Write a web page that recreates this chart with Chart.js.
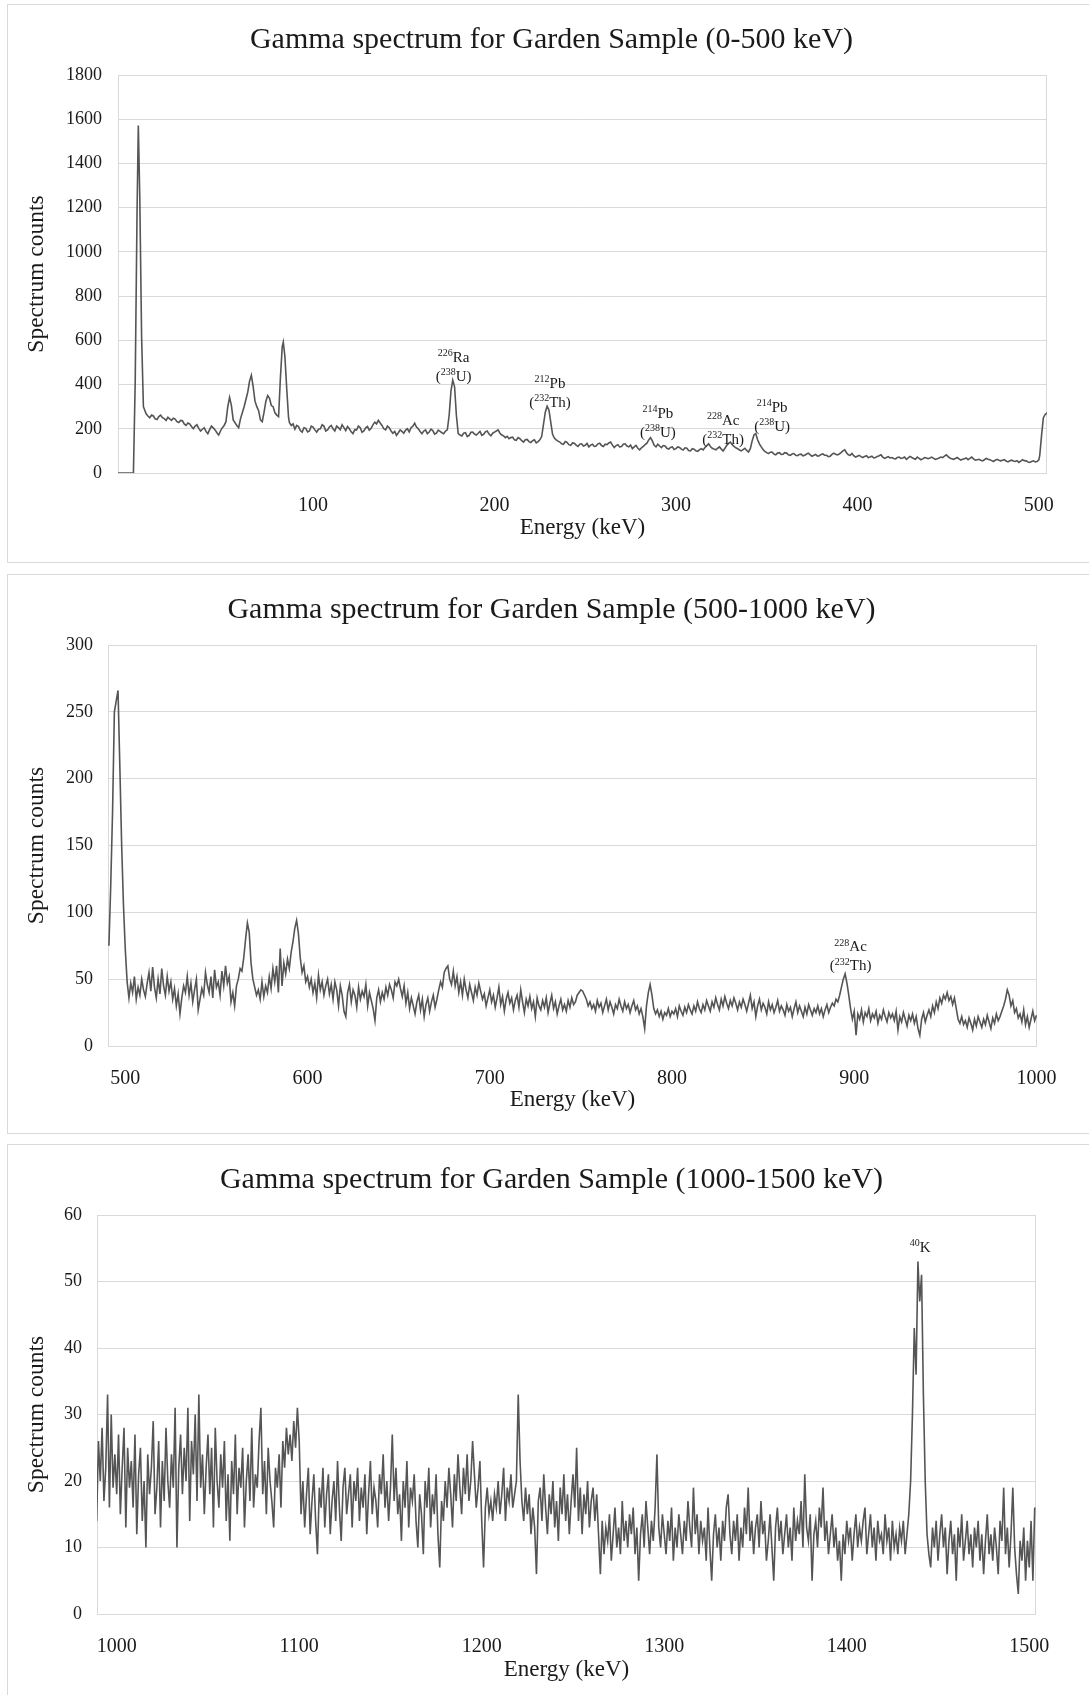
<!DOCTYPE html>
<html>
<head>
<meta charset="utf-8">
<script src="https://cdn.jsdelivr.net/npm/chart.js@4.4.1/dist/chart.umd.min.js"></script>
<style>
  html, body { margin: 0; padding: 0; background: #fff; overflow: hidden; }
  .box { position: absolute; border: 1px solid #d9d9d9; box-sizing: border-box; }
  canvas { position: absolute; }
</style>
</head>
<body>
<div class="box" style="left:7px;top:4px;width:1100px;height:559px"></div>
<canvas id="chart1" width="1087" height="557" style="left:8px;top:5px"></canvas>
<div class="box" style="left:7px;top:574px;width:1100px;height:560px"></div>
<canvas id="chart2" width="1087" height="558" style="left:8px;top:575px"></canvas>
<div class="box" style="left:7px;top:1144px;width:1100px;height:600px"></div>
<canvas id="chart3" width="1087" height="550" style="left:8px;top:1145px"></canvas>

<script>
// ---- panel 1 : 0-500 keV ----
const energies1 = [
  -7.5, 0, 1, 2, 3, 3.7, 4.5, 5.5, 6.5,
  8, 9, 10, 11, 12, 13, 14, 15, 16, 17,
  18, 19, 20, 21, 22, 23, 24, 25, 26, 27,
  28, 29, 30, 31, 32, 33, 34, 35, 36, 37,
  38, 39, 40, 41, 42, 43, 44, 45, 46, 47,
  48, 49, 50, 51, 52,
  53, 54, 55, 56, 58, 59, 60, 62, 64, 65,
  66, 67, 68, 69, 70, 71, 72, 73, 74, 75,
  76, 77, 78, 79, 80, 81, 82, 83, 83.6, 84.5,
  85.5, 86.5,
  87, 88, 89, 90, 91, 92, 93, 94, 95, 96,
  97, 98, 99, 100, 101, 102, 103, 104, 105, 106,
  107, 108, 109, 110, 111, 112, 113, 114, 115, 116,
  117, 118, 119, 120, 121, 122, 123, 124, 125, 126,
  127, 128, 129, 130, 131, 132, 133, 134, 135, 136,
  137, 138, 139, 140, 141, 142, 143, 144, 145, 146,
  147, 148, 149, 150, 151, 152, 153, 154, 155, 156,
  157, 158, 159, 160, 161, 162, 163, 164, 165, 166,
  167, 168, 169, 170, 171, 172, 173, 174, 175, 176,
  177, 178, 179, 180, 181, 182, 183, 184, 185, 186,
  187, 188, 189, 190, 191, 192, 193, 194, 195, 196,
  197, 198, 199, 200, 201, 202, 203, 204, 205, 206,
  207, 208, 209, 210, 211, 212, 213, 214, 215, 216,
  217, 218, 219, 220, 221, 222, 223, 224, 225, 226,
  227, 228, 229, 230, 231, 232, 233, 234, 235, 236,
  237, 238, 239, 240, 241, 242, 243, 244, 245, 246,
  247, 248, 249, 250, 251, 252, 253, 254, 255, 256,
  257, 258, 259, 260, 261, 262, 263, 264, 265, 266,
  267, 268, 269, 270, 271, 272, 273, 274, 275, 276,
  277, 278, 279, 280, 281, 282, 283, 284, 285, 286,
  287, 288, 289, 290, 291, 292, 293, 294, 295, 296,
  297, 298, 299, 300, 301, 302, 303, 304, 305, 306,
  307, 308, 309, 310, 311, 312, 313, 314, 315, 316,
  317, 318, 319, 320, 321, 322, 323, 324, 325, 326,
  327, 328, 329, 330, 331, 332, 333, 334, 335, 336,
  337, 338, 339, 340, 341, 342, 343, 344, 345, 346,
  347, 348, 349, 350, 351, 352, 353, 354, 355, 356,
  357, 358, 359, 360, 361, 362, 363, 364, 365, 366,
  367, 368, 369, 370, 371, 372, 373, 374, 375, 376,
  377, 378, 379, 380, 381, 382, 383, 384, 385, 386,
  387, 388, 389, 390, 391, 392, 393, 394, 395, 396,
  397, 398, 399, 400, 401, 402, 403, 404, 405, 406,
  407, 408, 409, 410, 411, 412, 413, 414, 415, 416,
  417, 418, 419, 420, 421, 422, 423, 424, 425, 426,
  427, 428, 429, 430, 431, 432, 433, 434, 435, 436,
  437, 438, 439, 440, 441, 442, 443, 444, 445, 446,
  447, 448, 449, 450, 451, 452, 453, 454, 455, 456,
  457, 458, 459, 460, 461, 462, 463, 464, 465, 466,
  467, 468, 469, 470, 471, 472, 473, 474, 475, 476,
  477, 478, 479, 480, 481, 482, 483, 484, 485, 486,
  487, 488, 489, 490, 491, 492, 493, 494, 495, 496,
  497, 498, 499, 500, 500.5, 501.5, 502.5, 503.5, 504.5
];
const counts1 = [
  0, 0, 0, 420, 1180, 1572, 1250, 620, 300,
  268, 258, 250, 262, 258, 245, 242, 255, 262, 250,
  246, 238, 252, 245, 238, 248, 244, 232, 228, 238,
  236, 222, 215, 226, 222, 210, 200, 212, 218, 202,
  190, 198, 205, 188, 178, 196, 212, 204, 195, 182,
  172, 190, 205, 215, 232,
  300, 342, 305, 240, 215, 205, 245, 300, 365, 415,
  442, 390, 325, 300, 282, 240, 232, 275, 325, 350,
  338, 305, 300, 272, 262, 255, 430, 570, 592, 525,
  380, 250,
  228, 215, 222, 198, 215, 210, 192, 185, 205, 202,
  186, 190, 212, 208, 195, 185, 198, 200, 218, 212,
  190, 195, 208, 215, 200, 190, 212, 205, 196, 218,
  205, 192, 210, 200, 186, 178, 196, 195, 212, 205,
  184, 190, 204, 210, 194, 202, 218, 230, 222, 238,
  226, 215, 200, 195, 212, 205, 190, 180, 188, 170,
  182, 195, 188, 180, 194, 200, 186, 205, 212, 225,
  208, 200, 188, 178, 190, 195, 178, 185, 198, 192,
  176, 180, 194, 188, 182, 178, 190, 195, 260, 370,
  420, 390, 260, 178, 172, 168, 180, 182, 165, 170,
  184, 185, 176, 172, 180, 188, 170, 175, 186, 190,
  176, 168, 180, 185, 190, 195, 180, 172, 168, 160,
  166, 155, 160, 162, 150, 148, 160, 155, 146, 140,
  150, 152, 142, 138, 146, 150, 136, 142, 150, 165,
  220, 275, 302, 285, 230, 175, 158, 150, 144, 140,
  132, 130, 142, 138, 128, 125, 136, 135, 126, 120,
  130, 132, 122, 125, 134, 118, 126, 130, 120, 122,
  132, 135, 124, 120, 130, 128, 136, 140, 126, 115,
  124, 128, 118, 120, 130, 132, 122, 118, 126, 110,
  118, 125, 112, 105, 114, 120, 128, 135, 150, 160,
  145, 125, 118, 130, 122, 115, 124, 122, 112, 108,
  116, 118, 106, 110, 118, 115, 108, 104, 114, 112,
  102, 100, 110, 108, 100, 98, 106, 110, 104, 115,
  124, 132, 120, 112, 108, 105, 112, 118, 108, 100,
  112, 125, 134, 140, 128, 120, 114, 110, 104, 100,
  106, 112, 102, 95, 110, 145, 172, 178, 150, 132,
  118, 106, 98, 92, 88, 94, 95, 86, 82, 90,
  92, 84, 85, 92, 90, 82, 80, 86, 88, 80,
  78, 84, 85, 78, 80, 86, 90, 82, 76, 80,
  84, 76, 78, 84, 86, 80, 80, 74, 76, 84,
  90, 85, 82, 86, 92, 100, 105, 92, 82, 80,
  88, 78, 72, 76, 80, 74, 70, 75, 78, 70,
  72, 76, 68, 70, 75, 78, 82, 72, 66, 70,
  74, 68, 70, 66, 64, 70, 72, 66, 68, 72,
  62, 68, 75, 70, 66, 62, 72, 66, 60, 64,
  70, 68, 65, 68, 72, 66, 62, 64, 68, 72,
  70, 76, 82, 74, 68, 64, 62, 66, 70, 64,
  58, 62, 65, 68, 60, 66, 72, 64, 58, 60,
  62, 58, 55, 60, 66, 62, 60, 56, 52, 58,
  62, 58, 55, 58, 60, 54, 50, 55, 58, 54,
  52, 56, 48, 54, 60, 56, 55, 50, 48, 52,
  55, 50, 52, 60, 80, 170, 250, 265, 272
];
const xTicks1 = [100, 200, 300, 400, 500];
const yTicks1 = [0, 200, 400, 600, 800, 1000, 1200, 1400, 1600, 1800];
const noteText1 = [['^226Ra', '(^238U)'], ['^212Pb', '(^232Th)'], ['^214Pb', '(^238U)'], ['^228Ac', '(^232Th)'], ['^214Pb', '(^238U)']];
const noteEnergy1 = [177.5, 230.6, 290, 326, 353];
const noteCounts1 = [526, 408, 272, 241, 300];

// ---- panel 2 : 500-1000 keV ----
const energies2 = [
  491, 492, 493, 494, 495, 496, 497, 498, 499, 500,
  501, 502, 503, 504, 505, 506, 507, 508, 509, 510,
  511, 512, 513, 514, 515, 516, 517, 518, 519, 520,
  521, 522, 523, 524, 525, 526, 527, 528, 529, 530,
  531, 532, 533, 534, 535, 536, 537, 538, 539, 540,
  541, 542, 543, 544, 545, 546, 547, 548, 549, 550,
  551, 552, 553, 554, 555, 556, 557, 558, 559, 560,
  561, 562, 563, 564, 565, 566, 567, 568, 569, 570,
  571, 572, 573, 574, 575, 576, 577, 578, 579, 580,
  581, 582, 583, 584, 585, 586, 587, 588, 589, 590,
  591, 592, 593, 594, 595, 596, 597, 598, 599, 600,
  601, 602, 603, 604, 605, 606, 607, 608, 609, 610,
  611, 612, 613, 614, 615, 616, 617, 618, 619, 620,
  621, 622, 623, 624, 625, 626, 627, 628, 629, 630,
  631, 632, 633, 634, 635, 636, 637, 638, 639, 640,
  641, 642, 643, 644, 645, 646, 647, 648, 649, 650,
  651, 652, 653, 654, 655, 656, 657, 658, 659, 660,
  661, 662, 663, 664, 665, 666, 667, 668, 669, 670,
  671, 672, 673, 674, 675, 676, 677, 678, 679, 680,
  681, 682, 683, 684, 685, 686, 687, 688, 689, 690,
  691, 692, 693, 694, 695, 696, 697, 698, 699, 700,
  701, 702, 703, 704, 705, 706, 707, 708, 709, 710,
  711, 712, 713, 714, 715, 716, 717, 718, 719, 720,
  721, 722, 723, 724, 725, 726, 727, 728, 729, 730,
  731, 732, 733, 734, 735, 736, 737, 738, 739, 740,
  741, 742, 743, 744, 745, 746, 747, 748, 749, 750,
  751, 752, 753, 754, 755, 756, 757, 758, 759, 760,
  761, 762, 763, 764, 765, 766, 767, 768, 769, 770,
  771, 772, 773, 774, 775, 776, 777, 778, 779, 780,
  781, 782, 783, 784, 785, 786, 787, 788, 789, 790,
  791, 792, 793, 794, 795, 796, 797, 798, 799, 800,
  801, 802, 803, 804, 805, 806, 807, 808, 809, 810,
  811, 812, 813, 814, 815, 816, 817, 818, 819, 820,
  821, 822, 823, 824, 825, 826, 827, 828, 829, 830,
  831, 832, 833, 834, 835, 836, 837, 838, 839, 840,
  841, 842, 843, 844, 845, 846, 847, 848, 849, 850,
  851, 852, 853, 854, 855, 856, 857, 858, 859, 860,
  861, 862, 863, 864, 865, 866, 867, 868, 869, 870,
  871, 872, 873, 874, 875, 876, 877, 878, 879, 880,
  881, 882, 883, 884, 885, 886, 887, 888, 889, 890,
  891, 892, 893, 894, 895, 896, 897, 898, 899, 900,
  901, 902, 903, 904, 905, 906, 907, 908, 909, 910,
  911, 912, 913, 914, 915, 916, 917, 918, 919, 920,
  921, 922, 923, 924, 925, 926, 927, 928, 929, 930,
  931, 932, 933, 934, 935, 936, 937, 938, 939, 940,
  941, 942, 943, 944, 945, 946, 947, 948, 949, 950,
  951, 952, 953, 954, 955, 956, 957, 958, 959, 960,
  961, 962, 963, 964, 965, 966, 967, 968, 969, 970,
  971, 972, 973, 974, 975, 976, 977, 978, 979, 980,
  981, 982, 983, 984, 985, 986, 987, 988, 989, 990,
  991, 992, 993, 994, 995, 996, 997, 998, 999, 1000
];
const counts2 = [
  75, 120, 175, 250, 258, 266, 209, 150, 105, 72,
  48, 36, 47, 40, 52, 35, 44, 38, 50, 42,
  37, 47, 55, 41, 59, 44, 36, 50, 39, 58,
  45, 38, 52, 41, 48, 35, 43, 30, 39, 24,
  36, 45, 40, 52, 38, 47, 33, 42, 50, 27,
  35, 43, 38, 55, 46, 40, 52, 36, 57, 44,
  48, 38, 56, 45, 60, 47, 52, 33, 40, 30,
  45, 50, 58, 56, 66, 80, 92, 85, 62, 50,
  44, 38, 42, 35, 48, 37, 45, 40, 52, 43,
  58, 48, 60, 40, 73, 45, 62, 54, 65, 58,
  70, 78, 88, 94, 84, 66, 55, 60, 48, 52,
  44, 50, 40, 47, 36, 53, 42, 48, 38, 45,
  50, 39, 46, 35, 48, 42, 30, 45, 38, 26,
  22, 40, 46, 33, 42, 38, 29, 44, 35, 41,
  37, 46, 30, 40, 34, 28, 19, 36, 42, 33,
  40, 35, 44, 38, 46, 42, 36, 48, 45, 50,
  43, 37, 45, 32, 40, 28, 36, 30, 24, 33,
  38, 27, 35, 22, 31, 36, 26, 33, 38, 29,
  35, 42, 48, 44, 55, 58, 60, 50, 46, 56,
  45, 52, 40, 48, 38, 50, 42, 36, 46, 40,
  34, 44, 38, 47, 41, 35, 39, 30, 36, 42,
  33, 38, 29, 36, 44, 31, 37, 26, 35, 40,
  32, 36, 27, 34, 38, 29, 42, 33, 25, 35,
  30, 37, 28, 33, 22, 36, 30, 27, 34, 29,
  36, 25, 32, 38, 28, 33, 24, 30, 35, 27,
  31, 26, 34, 29, 36, 31, 33, 38, 40, 42,
  41, 38, 35, 30, 33, 28, 31, 26, 34, 29,
  32, 25, 30, 35, 27, 33, 29, 24, 31, 28,
  35, 30, 26, 33, 28, 31, 25, 30, 34, 27,
  30, 24, 28, 22, 13, 30, 40, 46, 38, 28,
  24, 27, 22, 26, 20, 25, 23, 28, 22, 26,
  24, 28, 22, 30, 26, 23, 29, 25, 31, 27,
  24, 30, 26, 33, 28, 25, 31, 27, 34, 30,
  26, 33, 29, 36, 31, 27, 35, 30, 37, 32,
  28, 34, 30, 36, 32, 27, 33, 29, 35, 31,
  26, 32, 38, 28, 33, 22, 30, 35, 27, 32,
  29, 24, 33, 27, 31, 25, 29, 34, 26, 30,
  27, 23, 31, 26, 29, 22, 28, 33, 25, 30,
  26, 22, 29, 24, 31, 27, 23, 28, 25, 30,
  24, 28, 22, 27, 31, 25, 29, 32, 30, 35,
  33, 38, 44, 50, 54, 47, 38, 28, 20, 26,
  8, 24, 20, 27, 18, 25, 22, 28, 19, 24,
  21, 26, 17, 23, 20, 27, 22, 18, 25, 21,
  24, 19, 26, 12, 22, 18, 25, 20, 15, 23,
  19, 24, 17, 22, 13, 8, 20, 25, 18, 23,
  27, 22, 30, 25, 33, 28, 36, 32, 38, 35,
  40, 34, 37, 31, 36, 28, 20, 17, 22, 16,
  19, 14, 21, 17, 12, 20, 15, 22, 18, 14,
  20, 16, 23, 18, 13, 21, 17, 24, 19, 22,
  26, 30, 35, 42, 38, 30, 34, 25, 28, 21,
  24, 18, 27, 16, 22, 14, 20, 26, 19, 23
];
const xTicks2 = [500, 600, 700, 800, 900, 1000];
const yTicks2 = [0, 50, 100, 150, 200, 250, 300];
const noteText2 = [['^228Ac', '(^232Th)']];
const noteEnergy2 = [898];
const noteCounts2 = [74.6];

// ---- panel 3 : 1000-1500 keV ----
const energies3 = [
  989, 990, 991, 992, 993, 994, 995, 996, 997, 998,
  999, 1000, 1001, 1002, 1003, 1004, 1005, 1006, 1007, 1008,
  1009, 1010, 1011, 1012, 1013, 1014, 1015, 1016, 1017, 1018,
  1019, 1020, 1021, 1022, 1023, 1024, 1025, 1026, 1027, 1028,
  1029, 1030, 1031, 1032, 1033, 1034, 1035, 1036, 1037, 1038,
  1039, 1040, 1041, 1042, 1043, 1044, 1045, 1046, 1047, 1048,
  1049, 1050, 1051, 1052, 1053, 1054, 1055, 1056, 1057, 1058,
  1059, 1060, 1061, 1062, 1063, 1064, 1065, 1066, 1067, 1068,
  1069, 1070, 1071, 1072, 1073, 1074, 1075, 1076, 1077, 1078,
  1079, 1080, 1081, 1082, 1083, 1084, 1085, 1086, 1087, 1088,
  1089, 1090, 1091, 1092, 1093, 1094, 1095, 1096, 1097, 1098,
  1099, 1100, 1101, 1102, 1103, 1104, 1105, 1106, 1107, 1108,
  1109, 1110, 1111, 1112, 1113, 1114, 1115, 1116, 1117, 1118,
  1119, 1120, 1121, 1122, 1123, 1124, 1125, 1126, 1127, 1128,
  1129, 1130, 1131, 1132, 1133, 1134, 1135, 1136, 1137, 1138,
  1139, 1140, 1141, 1142, 1143, 1144, 1145, 1146, 1147, 1148,
  1149, 1150, 1151, 1152, 1153, 1154, 1155, 1156, 1157, 1158,
  1159, 1160, 1161, 1162, 1163, 1164, 1165, 1166, 1167, 1168,
  1169, 1170, 1171, 1172, 1173, 1174, 1175, 1176, 1177, 1178,
  1179, 1180, 1181, 1182, 1183, 1184, 1185, 1186, 1187, 1188,
  1189, 1190, 1191, 1192, 1193, 1194, 1195, 1196, 1197, 1198,
  1199, 1200, 1201, 1202, 1203, 1204, 1205, 1206, 1207, 1208,
  1209, 1210, 1211, 1212, 1213, 1214, 1215, 1216, 1217, 1218,
  1219, 1220, 1221, 1222, 1223, 1224, 1225, 1226, 1227, 1228,
  1229, 1230, 1231, 1232, 1233, 1234, 1235, 1236, 1237, 1238,
  1239, 1240, 1241, 1242, 1243, 1244, 1245, 1246, 1247, 1248,
  1249, 1250, 1251, 1252, 1253, 1254, 1255, 1256, 1257, 1258,
  1259, 1260, 1261, 1262, 1263, 1264, 1265, 1266, 1267, 1268,
  1269, 1270, 1271, 1272, 1273, 1274, 1275, 1276, 1277, 1278,
  1279, 1280, 1281, 1282, 1283, 1284, 1285, 1286, 1287, 1288,
  1289, 1290, 1291, 1292, 1293, 1294, 1295, 1296, 1297, 1298,
  1299, 1300, 1301, 1302, 1303, 1304, 1305, 1306, 1307, 1308,
  1309, 1310, 1311, 1312, 1313, 1314, 1315, 1316, 1317, 1318,
  1319, 1320, 1321, 1322, 1323, 1324, 1325, 1326, 1327, 1328,
  1329, 1330, 1331, 1332, 1333, 1334, 1335, 1336, 1337, 1338,
  1339, 1340, 1341, 1342, 1343, 1344, 1345, 1346, 1347, 1348,
  1349, 1350, 1351, 1352, 1353, 1354, 1355, 1356, 1357, 1358,
  1359, 1360, 1361, 1362, 1363, 1364, 1365, 1366, 1367, 1368,
  1369, 1370, 1371, 1372, 1373, 1374, 1375, 1376, 1377, 1378,
  1379, 1380, 1381, 1382, 1383, 1384, 1385, 1386, 1387, 1388,
  1389, 1390, 1391, 1392, 1393, 1394, 1395, 1396, 1397, 1398,
  1399, 1400, 1401, 1402, 1403, 1404, 1405, 1406, 1407, 1408,
  1409, 1410, 1411, 1412, 1413, 1414, 1415, 1416, 1417, 1418,
  1419, 1420, 1421, 1422, 1423, 1424, 1425, 1426, 1427, 1428,
  1429, 1430, 1431, 1432, 1433, 1434, 1435, 1436, 1437, 1438,
  1439, 1440, 1441, 1442, 1443, 1444, 1445, 1446, 1447, 1448,
  1449, 1450, 1451, 1452, 1453, 1454, 1455, 1456, 1457, 1458,
  1459, 1460, 1461, 1462, 1463, 1464, 1465, 1466, 1467, 1468,
  1469, 1470, 1471, 1472, 1473, 1474, 1475, 1476, 1477, 1478,
  1479, 1480, 1481, 1482, 1483, 1484, 1485, 1486, 1487, 1488,
  1489, 1490, 1491, 1492, 1493, 1494, 1495, 1496, 1497, 1498,
  1499, 1500, 1501, 1502, 1503
];
const counts3 = [
  14, 26, 20, 28, 17, 22, 33, 16, 30, 19,
  24, 18, 27, 15, 22, 28, 13, 25, 19, 23,
  16, 27, 12, 21, 25, 14, 20, 10, 24, 18,
  22, 29, 15, 19, 26, 13, 23, 17, 28, 20,
  16, 24, 19, 31, 10, 22, 27, 18, 25, 20,
  31, 14, 26, 21, 30, 17, 33, 19, 24, 15,
  22, 27, 18, 25, 13, 28, 20, 16, 24, 19,
  26, 14, 21, 11, 23, 18, 27, 15, 22, 19,
  25, 13, 20, 24, 17, 28, 16, 21, 19, 26,
  31, 18, 23, 15, 25, 20, 17, 13, 22, 19,
  24, 16, 26, 22, 28, 24, 27, 23, 29, 25,
  31, 26, 15, 20, 13, 18, 22, 12, 17, 21,
  14, 9, 19, 16, 22, 13, 18, 21, 12, 17,
  20, 14, 23, 16, 11, 19, 22, 15, 18, 21,
  13, 20, 17, 22, 14, 19, 16, 21, 12, 18,
  23, 15, 19, 17, 13, 21, 18, 24, 16, 20,
  14, 19, 27, 17, 22, 15, 18, 11, 20, 16,
  23, 13, 19, 17, 21, 14, 10, 18, 15, 9,
  20, 16, 22, 13, 18, 15, 21, 12, 7, 17,
  14, 20, 16, 22, 18, 13, 21, 17, 24, 19,
  15, 22, 18, 24, 17, 20, 26, 21, 16, 19,
  23, 14, 7, 16, 19, 15, 17, 14, 18, 16,
  20, 15, 18, 22, 14, 19, 17, 21, 16, 18,
  20, 33, 23, 17, 14, 19, 15, 18, 12, 16,
  13, 6, 17, 19, 14, 21, 16, 12, 18, 15,
  20, 13, 17, 11, 19, 15, 21, 14, 18, 12,
  17, 21, 16, 25, 14, 19, 12, 18, 15, 20,
  13, 17, 19, 14, 18, 12, 6, 14, 9, 13,
  11, 15, 8, 12, 16, 10, 13, 9, 17, 11,
  14, 10, 15, 12, 16, 9, 13, 5, 12, 15,
  10, 17, 13, 9, 14, 11, 16, 24, 13, 10,
  15, 12, 9, 14, 11, 16, 8, 13, 10, 15,
  12, 9, 14, 11, 17, 13, 10, 19, 12, 15,
  9, 14, 11, 13, 8, 16, 10, 5, 12, 15,
  10, 13, 8, 14, 11, 16, 18, 12, 9, 14,
  11, 15, 8, 13, 10, 16, 12, 19, 11, 14,
  9, 13, 15, 10, 17, 12, 14, 8, 11, 15,
  10, 5, 13, 16, 11, 14, 9, 12, 15, 10,
  13, 8, 16, 11, 14, 12, 17, 10, 21, 13,
  11, 15, 5, 12, 14, 10, 16, 13, 19, 11,
  14, 9, 12, 15, 10, 13, 8, 11, 5, 12,
  9, 14, 11, 13, 8, 12, 15, 10, 13, 11,
  14, 16, 9, 12, 15, 10, 13, 8, 14, 11,
  12, 9, 15, 11, 13, 8, 14, 10, 12, 9,
  13, 11, 14, 9, 12, 15, 20, 30, 43, 36,
  53, 47, 51, 33, 20, 12, 9, 7, 13, 10,
  14, 8, 12, 15, 10, 13, 6, 11, 14, 9,
  12, 5, 13, 10, 15, 8, 11, 14, 9, 12,
  7, 13, 10, 14, 8, 12, 6, 11, 15, 9,
  12, 8, 13, 10, 6, 14, 11, 19, 9, 13,
  7, 12, 19, 10, 6, 3, 11, 8, 13, 5,
  11, 7, 14, 5, 16
];
const xTicks3 = [1000, 1100, 1200, 1300, 1400, 1500];
const yTicks3 = [0, 10, 20, 30, 40, 50, 60];
const noteText3 = [['^40K']];
const noteEnergy3 = [1440.2];
const noteCounts3 = [55.2];

const SERIF = '"Liberation Serif", "Times New Roman", serif';
const TEXT = '#1a1a1a';
const GRID = '#d9d9d9';
const LINE = '#555555';

// light frame left/right of the plot area
const frame = {
  id: 'frame',
  beforeDatasetsDraw(chart) {
    const { ctx, chartArea: a } = chart;
    ctx.save();
    ctx.strokeStyle = GRID;
    ctx.lineWidth = 1;
    ctx.beginPath();
    ctx.moveTo(Math.round(a.left) + 0.5, a.top);
    ctx.lineTo(Math.round(a.left) + 0.5, a.bottom);
    ctx.moveTo(Math.round(a.right) - 0.5, a.top);
    ctx.lineTo(Math.round(a.right) - 0.5, a.bottom);
    ctx.stroke();
    ctx.restore();
  }
};

// text with ^123 superscripts, centred on (cx, cy)
function drawRich(ctx, str, cx, cy, size) {
  const supSize = Math.round(size * 0.64);
  let total = 0;
  const items = str.split(/(\^\d+)/).filter(Boolean).map(p => {
    const sup = p[0] === '^';
    const t = sup ? p.slice(1) : p;
    ctx.font = (sup ? supSize : size) + 'px ' + SERIF;
    const w = ctx.measureText(t).width;
    total += w;
    return { t, sup, w };
  });
  let x = cx - total / 2;
  const base = cy + size * 0.33;
  items.forEach(it => {
    ctx.font = (it.sup ? supSize : size) + 'px ' + SERIF;
    ctx.fillText(it.t, x, it.sup ? base - size * 0.38 : base);
    x += it.w;
  });
}

const notes = {
  id: 'notes',
  afterDatasetsDraw(chart, args, opts) {
    const { ctx, scales } = chart;
    ctx.save();
    ctx.fillStyle = TEXT;
    ctx.textAlign = 'left';
    ctx.textBaseline = 'alphabetic';
    opts.text.forEach((lines, i) => {
      const cx = scales.x.getPixelForValue(opts.energy[i]);
      const cy = scales.y.getPixelForValue(opts.counts[i]);
      lines.forEach((ln, j) => drawRich(ctx, ln, cx, cy + j * 19, opts.size));
    });
    ctx.restore();
  }
};

function makeChart(id, c) {
  return new Chart(document.getElementById(id), {
    type: 'line',
    data: {
      datasets: [{
        data: c.energy.map((e, i) => ({ x: e, y: c.counts[i] })),
        borderColor: LINE,
        borderWidth: 1.6,
        pointRadius: 0,
        tension: 0,
        fill: false
      }]
    },
    options: {
      responsive: false,
      animation: false,
      events: [],
      layout: { padding: 0 },
      plugins: {
        legend: { display: false },
        tooltip: { enabled: false },
        title: {
          display: true,
          text: c.title,
          color: TEXT,
          font: { family: SERIF, size: 30, weight: 'normal' },
          padding: { top: 17, bottom: 17 }
        },
        notes: { text: c.noteText, energy: c.noteEnergy, counts: c.noteCounts, size: 15 }
      },
      scales: {
        x: {
          type: 'linear',
          min: c.xMin,
          max: c.xMax,
          afterBuildTicks: s => { s.ticks = c.xTicks.map(v => ({ value: v })); },
          afterFit: s => { s.height = c.xAxisHeight; s.paddingLeft = 0; s.paddingRight = 0; },
          grid: { display: false },
          border: { display: false },
          ticks: {
            padding: 13, color: TEXT, maxRotation: 0, autoSkip: false,
            font: { family: SERIF, size: 20 },
            callback: v => String(v)
          },
          title: {
            display: true, text: 'Energy (keV)', color: TEXT,
            font: { family: SERIF, size: 23 },
            padding: { top: 0, bottom: c.xTitlePad }
          }
        },
        y: {
          min: 0,
          max: c.yTicks[c.yTicks.length - 1],
          afterBuildTicks: s => { s.ticks = c.yTicks.map(v => ({ value: v })); },
          afterFit: s => { s.width = c.yAxisWidth; },
          grid: { color: GRID, lineWidth: 1, drawTicks: false },
          border: { display: false },
          ticks: {
            padding: c.yTickPad, color: TEXT,
            font: { family: SERIF, size: 18 },
            callback: v => String(v)
          },
          title: {
            display: true, text: 'Spectrum counts', color: TEXT,
            font: { family: SERIF, size: 23.5 },
            padding: { top: 15, bottom: 0 }
          }
        },
        // empty right-hand box, keeps the plot clear of the panel's right side
        yRight: {
          type: 'linear',
          position: 'right',
          afterFit: s => { s.width = c.rightGap; },
          grid: { display: false },
          border: { display: false },
          ticks: { display: false },
          title: { display: false }
        }
      }
    },
    plugins: [frame, notes]
  });
}

makeChart('chart1', {
  title: 'Gamma spectrum for Garden Sample (0-500 keV)',
  energy: energies1, counts: counts1,
  xTicks: xTicks1, yTicks: yTicks1,
  noteText: noteText1, noteEnergy: noteEnergy1, noteCounts: noteCounts1,
  xMin: -7.5, xMax: 504.5,
  rightGap: 48, yAxisWidth: 110, xAxisHeight: 89, xTitlePad: 20, yTickPad: 16
});

makeChart('chart2', {
  title: 'Gamma spectrum for Garden Sample (500-1000 keV)',
  energy: energies2, counts: counts2,
  xTicks: xTicks2, yTicks: yTicks2,
  noteText: noteText2, noteEnergy: noteEnergy2, noteCounts: noteCounts2,
  xMin: 490.5, xMax: 1000.3,
  rightGap: 58, yAxisWidth: 100, xAxisHeight: 87, xTitlePad: 19, yTickPad: 15
});

makeChart('chart3', {
  title: 'Gamma spectrum for Garden Sample (1000-1500 keV)',
  energy: energies3, counts: counts3,
  xTicks: xTicks3, yTicks: yTicks3,
  noteText: noteText3, noteEnergy: noteEnergy3, noteCounts: noteCounts3,
  xMin: 989.2, xMax: 1503.7,
  rightGap: 59, yAxisWidth: 89, xAxisHeight: 81, xTitlePad: 11, yTickPad: 15
});
</script>
</body>
</html>
